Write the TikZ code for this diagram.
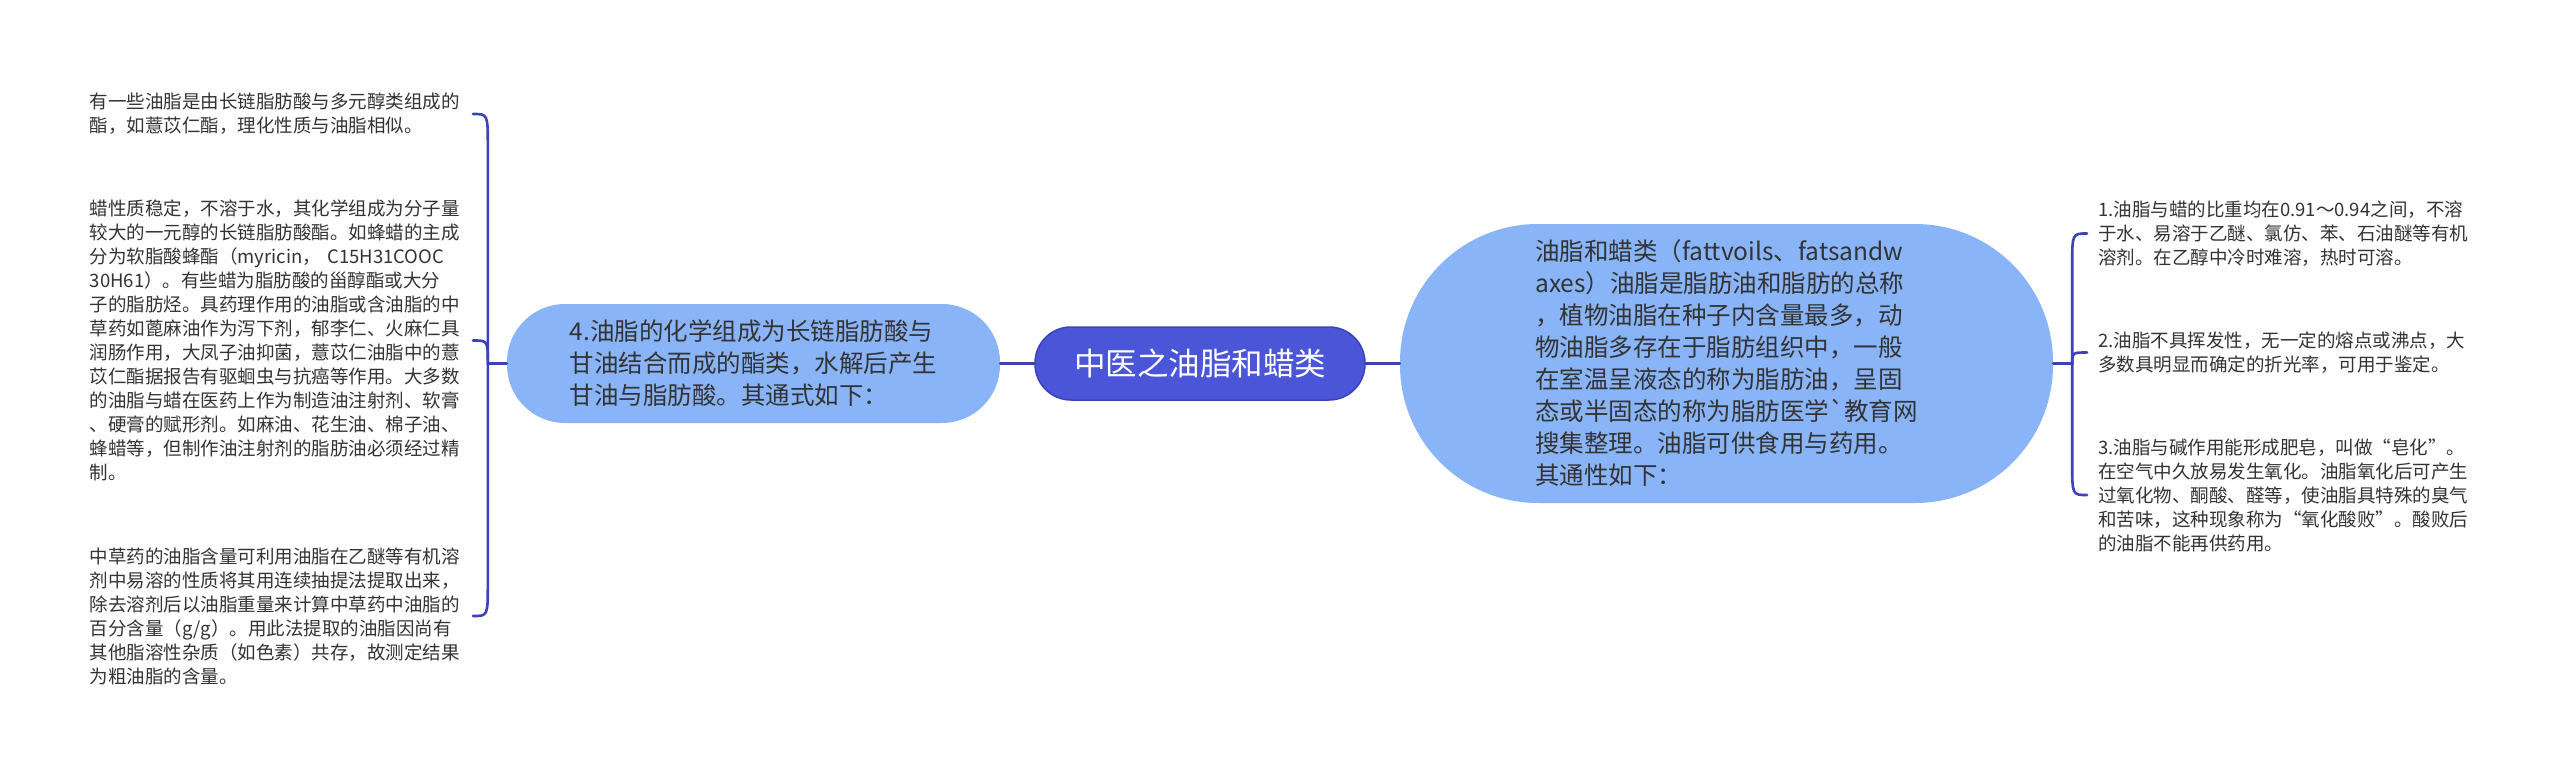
\documentclass[tikz,border=0pt]{standalone}
\usepackage{fontspec}
\setmainfont{Noto Sans CJK SC}[Ligatures=TeXOff]
\definecolor{rootblue}{HTML}{4B55D7}
\definecolor{branchblue}{HTML}{8AB4F8}
\definecolor{linkblue}{HTML}{3D42B8}
\definecolor{txt}{HTML}{333333}
\begin{document}
\begin{tikzpicture}[x=1pt,y=-1pt,
    link/.style={draw=linkblue,line width=2.6pt,line cap=round},
    topic/.style={fill=branchblue,text=txt,align=left,inner sep=0pt,font=\fontsize{24.5}{32}\selectfont},
    leaf/.style={text=txt,align=left,inner sep=0pt,font=\fontsize{18.5}{24}\selectfont}]

    \fill[white] (0,0) rectangle (2560,776);
    \useasboundingbox (0,0) rectangle (2560,776);

    % centre et branches
    \node[fill=rootblue,draw=linkblue,line width=1.5pt,rounded corners=36pt,
          minimum width=330pt,minimum height=73pt,inner sep=0pt,text=white,
          font=\fontsize{31.5}{36}\selectfont] (root) at (1200,363.5) {中医之油脂和蜡类};
    \node[topic,rounded corners=58pt,minimum width=493pt,minimum height=119pt] (lb) at (753.5,363.5)
        {4.油脂的化学组成为长链脂肪酸与\\甘油结合而成的酯类，水解后产生\\甘油与脂肪酸。其通式如下：};
    \node[topic,rounded corners=138pt,minimum width=653pt,minimum height=279pt] (rb) at (1726.5,363.5)
        {油脂和蜡类（fattvoils、fatsandw\\axes）油脂是脂肪油和脂肪的总称\\，植物油脂在种子内含量最多，动\\物油脂多存在于脂肪组织中，一般\\在室温呈液态的称为脂肪油，呈固\\态或半固态的称为脂肪医学`教育网\\搜集整理。油脂可供食用与药用。\\其通性如下：};

    % feuilles gauche
    \node[leaf,text width=383pt,anchor=east] (t1) at (473,114)
        {有一些油脂是由长链脂肪酸与多元醇类组成的\\酯，如薏苡仁酯，理化性质与油脂相似。};
    \node[leaf,text width=383pt,anchor=east] (t2) at (473,340.5)
        {蜡性质稳定，不溶于水，其化学组成为分子量\\较大的一元醇的长链脂肪酸酯。如蜂蜡的主成\\分为软脂酸蜂酯（myricin， C15H31COOC\\30H61）。有些蜡为脂肪酸的甾醇酯或大分\\子的脂肪烃。具药理作用的油脂或含油脂的中\\草药如蓖麻油作为泻下剂，郁李仁、火麻仁具\\润肠作用，大凤子油抑菌，薏苡仁油脂中的薏\\苡仁酯据报告有驱蛔虫与抗癌等作用。大多数\\的油脂与蜡在医药上作为制造油注射剂、软膏\\、硬膏的赋形剂。如麻油、花生油、棉子油、\\蜂蜡等，但制作油注射剂的脂肪油必须经过精\\制。};
    \node[leaf,text width=383pt,anchor=east] (t3) at (473,616)
        {中草药的油脂含量可利用油脂在乙醚等有机溶\\剂中易溶的性质将其用连续抽提法提取出来，\\除去溶剂后以油脂重量来计算中草药中油脂的\\百分含量（g/g）。用此法提取的油脂因尚有\\其他脂溶性杂质（如色素）共存，故测定结果\\为粗油脂的含量。};

    % feuilles droite
    \node[leaf,text width=390pt,inner xsep=11pt,anchor=west] (r1) at (2087,233.5)
        {1.油脂与蜡的比重均在0.91～0.94之间，不溶\\于水、易溶于乙醚、氯仿、苯、石油醚等有机\\溶剂。在乙醇中冷时难溶，热时可溶。};
    \node[leaf,text width=390pt,inner xsep=11pt,anchor=west] (r2) at (2087,352.5)
        {2.油脂不具挥发性，无一定的熔点或沸点，大\\多数具明显而确定的折光率，可用于鉴定。};
    \node[leaf,text width=390pt,inner xsep=11pt,anchor=west] (r3) at (2087,495)
        {3.油脂与碱作用能形成肥皂，叫做“皂化”。\\在空气中久放易发生氧化。油脂氧化后可产生\\过氧化物、酮酸、醛等，使油脂具特殊的臭气\\和苦味，这种现象称为“氧化酸败”。酸败后\\的油脂不能再供药用。};

    % liens
    \coordinate (lj) at ([xshift=-19pt]lb.west);
    \coordinate (rj) at ([xshift=19pt]rb.east);
    \draw[link] (lb.east) -- (root.west);
    \draw[link] (root.east) -- (rb.west);

    \draw[link] (lb.west) -- (lj) -- ([yshift=-32pt]lj |- t1.east) .. controls (lj |- t1.east) .. (t1.east);
    \draw[link] (lj) .. controls (lj |- t2.east) .. (t2.east);
    \draw[link] (lj) -- ([yshift=32pt]lj |- t3.east) .. controls (lj |- t3.east) .. (t3.east);

    \draw[link] (rb.east) -- (rj) -- ([yshift=-32pt]rj |- r1.west) .. controls (rj |- r1.west) .. (r1.west);
    \draw[link] (rj) .. controls (rj |- r2.west) .. (r2.west);
    \draw[link] (rj) -- ([yshift=32pt]rj |- r3.west) .. controls (rj |- r3.west) .. (r3.west);

\end{tikzpicture}
\end{document}
